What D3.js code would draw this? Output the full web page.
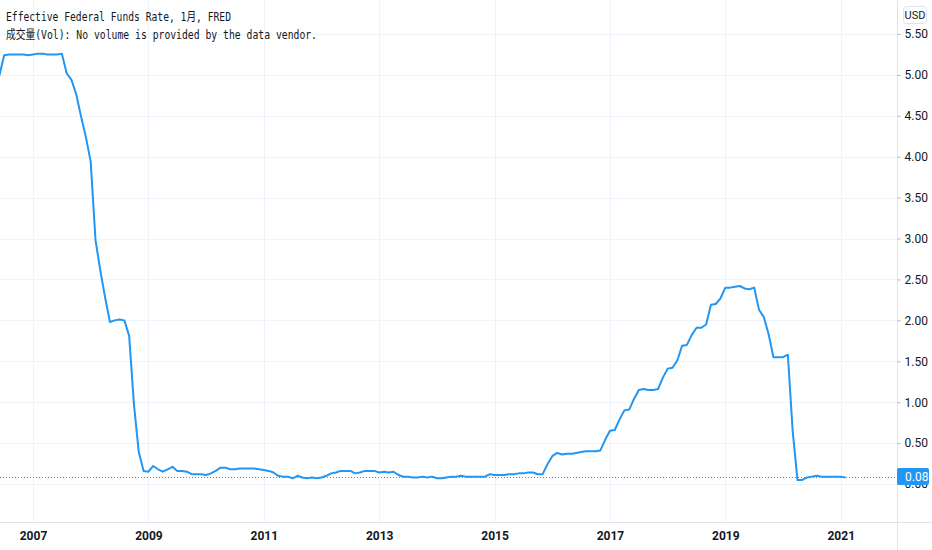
<!DOCTYPE html>
<html>
<head>
<meta charset="utf-8">
<script src="https://cdn.jsdelivr.net/npm/d3@7"></script>
<style>
  body { margin: 0; background: #fff; }
  svg { display: block; }
</style>
</head>
<body>
<svg id="chart" width="932" height="550"></svg>
<script>
// Effective Federal Funds Rate, monthly, from June 2006
const startYear = 2006;
const startMonth = 6;
const rateValues = [
  4.99, 5.24, 5.25, 5.25, 5.25, 5.25, 5.24,
  5.25, 5.26, 5.26, 5.25, 5.25, 5.25, 5.26, 5.02, 4.94, 4.76, 4.49, 4.24,
  3.94, 2.98, 2.61, 2.28, 1.98, 2.00, 2.01, 2.00, 1.81, 0.97, 0.39, 0.16,
  0.15, 0.22, 0.18, 0.15, 0.18, 0.21, 0.16, 0.16, 0.15, 0.12, 0.12, 0.12,
  0.11, 0.13, 0.16, 0.20, 0.20, 0.18, 0.18, 0.19, 0.19, 0.19, 0.19, 0.18,
  0.17, 0.16, 0.14, 0.10, 0.09, 0.09, 0.07, 0.10, 0.08, 0.07, 0.08, 0.07,
  0.08, 0.10, 0.13, 0.14, 0.16, 0.16, 0.16, 0.13, 0.14, 0.16, 0.16, 0.16,
  0.14, 0.15, 0.14, 0.15, 0.11, 0.09, 0.09, 0.08, 0.08, 0.09, 0.08, 0.09,
  0.07, 0.07, 0.08, 0.09, 0.09, 0.10, 0.09, 0.09, 0.09, 0.09, 0.09, 0.12,
  0.11, 0.11, 0.11, 0.12, 0.12, 0.13, 0.13, 0.14, 0.14, 0.12, 0.12, 0.24,
  0.34, 0.38, 0.36, 0.37, 0.37, 0.38, 0.39, 0.40, 0.40, 0.40, 0.41, 0.54,
  0.65, 0.66, 0.79, 0.90, 0.91, 1.04, 1.15, 1.16, 1.15, 1.15, 1.16, 1.30,
  1.41, 1.42, 1.51, 1.69, 1.70, 1.82, 1.91, 1.91, 1.95, 2.19, 2.20, 2.27,
  2.40, 2.40, 2.41, 2.42, 2.39, 2.38, 2.40, 2.13, 2.04, 1.83, 1.55, 1.55,
  1.55, 1.58, 0.65, 0.05, 0.05, 0.08, 0.09, 0.10, 0.09, 0.09, 0.09, 0.09,
  0.09, 0.08
];
const yearTicks = [2007, 2009, 2011, 2013, 2015, 2017, 2019, 2021];
const priceTicks = [0, 0.5, 1, 1.5, 2, 2.5, 3, 3.5, 4, 4.5, 5, 5.5];
const titleLine = "Effective Federal Funds Rate, 1月, FRED";
const volLine = "成交量(Vol): No volume is provided by the data vendor.";
const currency = "USD";

const svg = d3.select("#chart");
const W = 932, H = 550;
const plotRight = 897, plotBottom = 522;
const gridColor = "#f0f3fa";
const borderColor = "#e0e3eb";
const lineColor = "#2196f3";
const textColor = "#131722";
const axisFont = "'Liberation Sans Narrow', 'Roboto', sans-serif";

// data points: fractional year on x
const points = rateValues.map((v, i) => {
  const m = startMonth - 1 + i;
  return { t: startYear + m / 12, v: v };
});
const last = points[points.length - 1];

const x = d3.scaleLinear()
  .domain([2006.428, 2021.975])
  .range([0, plotRight]);

const y = d3.scaleLinear()
  .domain([0, 5.5])
  .range([484, 34]);

svg.append("rect").attr("width", W).attr("height", H).style("fill", "#fff");

// grid
const grid = svg.append("g");
grid.selectAll(".hg").data(priceTicks).enter().append("line")
  .attr("x1", 0).attr("x2", plotRight)
  .attr("y1", d => Math.round(y(d)) + 0.5).attr("y2", d => Math.round(y(d)) + 0.5)
  .style("stroke", gridColor);
grid.selectAll(".vg").data(yearTicks).enter().append("line")
  .attr("x1", d => Math.round(x(d)) + 0.5).attr("x2", d => Math.round(x(d)) + 0.5)
  .attr("y1", 0).attr("y2", plotBottom)
  .style("stroke", gridColor);

// borders of the axis panes
svg.append("line").attr("x1", 0).attr("x2", W)
  .attr("y1", plotBottom + 0.5).attr("y2", plotBottom + 0.5)
  .style("stroke", borderColor);
svg.append("line").attr("x1", plotRight + 0.5).attr("x2", plotRight + 0.5)
  .attr("y1", 0).attr("y2", H)
  .style("stroke", borderColor);

// right price axis
const yAxis = svg.append("g")
  .attr("transform", `translate(${plotRight + 0.5},0)`)
  .call(d3.axisRight(y).tickValues(priceTicks).tickSize(3).tickPadding(4)
    .tickFormat(d3.format(".2f")));
yAxis.select(".domain").remove();
yAxis.selectAll(".tick line").style("stroke", "#b2b5be");
yAxis.selectAll("text")
  .style("fill", textColor)
  .style("font-family", axisFont)
  .style("font-size", "12px");

// bottom time axis
const xAxis = svg.append("g")
  .attr("transform", `translate(0,${plotBottom})`)
  .call(d3.axisBottom(x).tickValues(yearTicks).tickSize(0).tickPadding(9)
    .tickFormat(d3.format("d")));
xAxis.select(".domain").remove();
xAxis.selectAll("text")
  .style("fill", textColor)
  .style("font-family", axisFont)
  .style("font-size", "12px")
  .style("font-weight", "bold");

// plot clip
svg.append("defs").append("clipPath").attr("id", "plotClip")
  .append("rect").attr("x", 0).attr("y", 0)
  .attr("width", plotRight).attr("height", plotBottom);

const plot = svg.append("g").attr("clip-path", "url(#plotClip)");

// last value dotted line
plot.append("line")
  .attr("x1", 0).attr("x2", plotRight)
  .attr("y1", y(last.v)).attr("y2", y(last.v))
  .style("stroke", lineColor)
  .style("stroke-width", 1)
  .style("stroke-dasharray", "1 2");

// series line
const line = d3.line()
  .x(d => x(d.t))
  .y(d => y(d.v));

plot.append("path")
  .datum(points)
  .attr("d", line)
  .style("fill", "none")
  .style("stroke", lineColor)
  .style("stroke-width", 2)
  .style("stroke-linejoin", "round");

// currency box
svg.append("rect")
  .attr("x", 903.5).attr("y", 6.5)
  .attr("width", 23).attr("height", 17)
  .attr("rx", 3)
  .style("fill", "#fff")
  .style("stroke", borderColor);
svg.append("text")
  .attr("x", 915).attr("y", 19)
  .attr("text-anchor", "middle")
  .style("fill", textColor)
  .style("font-family", axisFont)
  .style("font-size", "11px")
  .text(currency);

// legend text
const legendFont = "'DejaVu Sans Mono', 'Noto Sans CJK SC', monospace";
svg.append("text")
  .attr("x", 6).attr("y", 21)
  .attr("textLength", 225).attr("lengthAdjust", "spacingAndGlyphs")
  .style("fill", textColor)
  .style("font-family", legendFont)
  .style("font-size", "12px")
  .text(titleLine);
svg.append("text")
  .attr("x", 6).attr("y", 39)
  .attr("textLength", 311).attr("lengthAdjust", "spacingAndGlyphs")
  .style("fill", textColor)
  .style("font-family", legendFont)
  .style("font-size", "12px")
  .text(volLine);

// last value label, drawn on top of the axis
const lastY = Math.round(y(last.v));
const badge = svg.append("g").attr("transform", `translate(${plotRight},${lastY})`);
badge.append("rect")
  .attr("x", 0).attr("y", -9)
  .attr("width", 32).attr("height", 17)
  .attr("rx", 2)
  .style("fill", lineColor);
badge.append("text")
  .attr("x", 8).attr("y", 4)
  .style("fill", "#ffffff")
  .style("font-family", axisFont)
  .style("font-size", "12px")
  .text(d3.format(".2f")(last.v));
</script>
</body>
</html>
